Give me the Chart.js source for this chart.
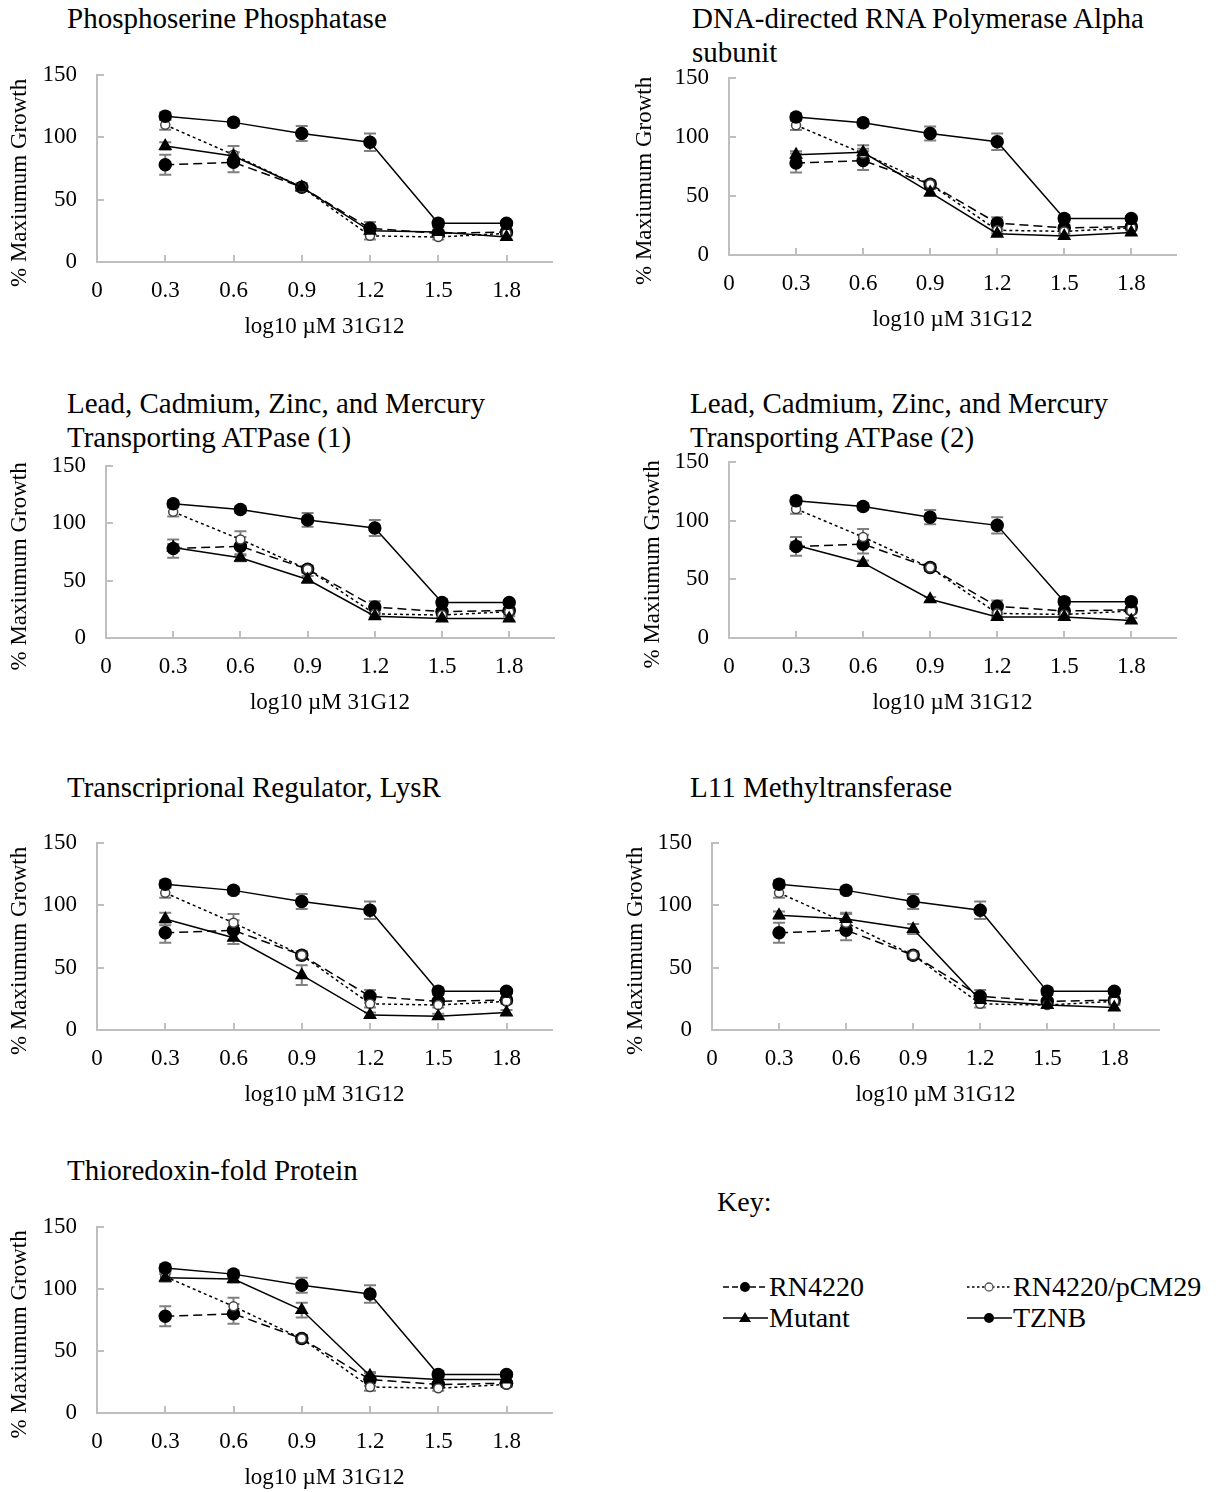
<!DOCTYPE html>
<html lang="en">
<head>
<meta charset="UTF-8">
<title>% Maximum Growth vs log10 µM 31G12</title>
<script src="https://cdn.jsdelivr.net/npm/chart.js@4.4.1/dist/chart.umd.min.js"></script>
<style>
  body { margin: 0; width: 1218px; height: 1492px; position: relative; background: #fff;
         font-family: 'Liberation Serif', 'Times New Roman', serif; color: #000; }
  canvas { position: absolute; }
  .ptitle { position: absolute; font-size: 29px; line-height: 34px; white-space: nowrap; }
  .key { position: absolute; left: 717px; top: 1186px; font-size: 28px; }
  .item { position: absolute; font-size: 28px; line-height: 30px; white-space: nowrap; display: flex; align-items: center; }
  .item svg { margin-right: 1px; }
</style>
</head>
<body>
<div id="page"></div>
<script>
// x values (log10 uM 31G12) and tick labels
const doses = [0.3, 0.6, 0.9, 1.2, 1.5, 1.8];
const xTicks = [0, 0.3, 0.6, 0.9, 1.2, 1.5, 1.8];
const yTicks = [0, 50, 100, 150];
const seriesNames = ['RN4220', 'RN4220/pCM29', 'Mutant', 'TZNB'];

// control strains, same in every panel
const rn4220    = [78, 80, 60, 27, 23, 24];
const rn4220Err = [8, 8, 3, 5, 2, 2];
const pcm29     = [110, 86, 60, 21, 20, 23];
const pcm29Err  = [4, 7, 3, 3, 2, 2];
const tznb      = [117, 112, 103, 96, 31, 31];
const tznbErr   = [3, 3, 6, 7, 3, 2];

// mutant per panel
const mutant1 = [93, 85, 60, 25, 24, 20];
const mutant2 = [85, 87, 53, 18, 16, 19];
const mutant3 = [79, 70, 51, 19, 17, 17];
const mutant4 = [79, 64, 33, 18, 18, 15];
const mutant5 = [89, 74, 44, 12, 11, 14];
const mutant6 = [92, 89, 81, 24, 20, 18];
const mutant7 = [109, 108, 83, 30, 27, 27];
const mutantErr1 = [3, 3, 3, 2, 2, 2];
const mutantErr2 = [3, 3, 3, 2, 2, 2];
const mutantErr3 = [3, 3, 3, 2, 2, 2];
const mutantErr4 = [3, 2, 2, 2, 2, 2];
const mutantErr5 = [5, 5, 8, 2, 2, 2];
const mutantErr6 = [3, 5, 4, 2, 2, 2];
const mutantErr7 = [3, 3, 6, 3, 2, 2];

const panelTitles = [
  ['Phosphoserine Phosphatase'],
  ['DNA-directed RNA Polymerase Alpha', 'subunit'],
  ['Lead, Cadmium, Zinc, and Mercury', 'Transporting ATPase (1)'],
  ['Lead, Cadmium, Zinc, and Mercury', 'Transporting ATPase (2)'],
  ['Transcriprional Regulator, LysR'],
  ['L11 Methyltransferase'],
  ['Thioredoxin-fold Protein']
];
const mutants = [mutant1, mutant2, mutant3, mutant4, mutant5, mutant6, mutant7];
const mutantErrs = [mutantErr1, mutantErr2, mutantErr3, mutantErr4, mutantErr5, mutantErr6, mutantErr7];

// where each plot area sits on the page (L/R = x 0 and 2, T/B = y 150 and 0)
const boxes = [
  { L: 97,  R: 552,  T: 75,  B: 262,  yt: 20,  tx: 67,  ty: 18 },
  { L: 729, R: 1176, T: 78,  B: 255,  yt: 645, tx: 692, ty: 18 },
  { L: 106, R: 554,  T: 466, B: 638,  yt: 20,  tx: 67,  ty: 403 },
  { L: 729, R: 1176, T: 462, B: 638,  yt: 653, tx: 690, ty: 403 },
  { L: 97,  R: 552,  T: 843, B: 1030, yt: 20,  tx: 67,  ty: 787 },
  { L: 712, R: 1159, T: 843, B: 1030, yt: 636, tx: 690, ty: 787 },
  { L: 97,  R: 552,  T: 1227, B: 1413, yt: 20, tx: 67,  ty: 1170 }
];

Chart.defaults.font.family = "'Liberation Serif', 'Times New Roman', serif";
Chart.defaults.font.size = 23;
Chart.defaults.color = '#000';

const errorBars = {
  id: 'errorBars',
  beforeDatasetsDraw(chart) {
    const { ctx, scales: { x, y } } = chart;
    ctx.save();
    ctx.strokeStyle = '#808080';
    ctx.lineWidth = 2;
    chart.data.datasets.forEach(ds => {
      ds.data.forEach((p, i) => {
        const e = ds.errors[i];
        const px = x.getPixelForValue(p.x);
        const y1 = y.getPixelForValue(p.y + e);
        const y2 = y.getPixelForValue(p.y - e);
        ctx.beginPath();
        ctx.moveTo(px, y1); ctx.lineTo(px, y2);
        ctx.moveTo(px - 6, y1); ctx.lineTo(px + 6, y1);
        ctx.moveTo(px - 6, y2); ctx.lineTo(px + 6, y2);
        ctx.stroke();
      });
    });
    ctx.restore();
  }
};

function pts(vals) {
  return doses.map((d, i) => ({ x: d, y: vals[i] }));
}

const page = document.getElementById('page');
const padTop = 20, padRight = 20, xh = 80;

boxes.forEach((b, i) => {
  const t = document.createElement('div');
  t.className = 'ptitle';
  t.style.left = b.tx + 'px';
  t.style.top = (b.ty - 17) + 'px';
  t.innerHTML = panelTitles[i].join('<br>');
  page.appendChild(t);

  const cl = Math.round(b.yt - 14);
  const yw = b.L - cl;
  const cv = document.createElement('canvas');
  cv.width = yw + (b.R - b.L) + padRight;
  cv.height = padTop + (b.B - b.T) + xh;
  cv.style.left = cl + 'px';
  cv.style.top = (b.T - padTop) + 'px';
  page.appendChild(cv);

  const axisGrey = '#bfbfbf';
  new Chart(cv, {
    type: 'line',
    data: {
      datasets: [
        { label: seriesNames[0], data: pts(rn4220), errors: rn4220Err, order: 3,
          borderColor: '#000', borderWidth: 1.5, borderDash: [9, 5],
          pointStyle: 'circle', pointRadius: 6, pointBackgroundColor: '#000', pointBorderColor: '#000' },
        { label: seriesNames[1], data: pts(pcm29), errors: pcm29Err, order: 2,
          borderColor: '#000', borderWidth: 1.5, borderDash: [3, 3],
          pointStyle: 'circle', pointRadius: 4.5, pointBackgroundColor: '#fff', pointBorderColor: '#444', pointBorderWidth: 1.5 },
        { label: seriesNames[2], data: pts(mutants[i]), errors: mutantErrs[i], order: 1,
          borderColor: '#000', borderWidth: 1.5,
          pointStyle: 'triangle', pointRadius: 6.5, pointBackgroundColor: '#000', pointBorderColor: '#000' },
        { label: seriesNames[3], data: pts(tznb), errors: tznbErr, order: 0,
          borderColor: '#000', borderWidth: 1.5,
          pointStyle: 'circle', pointRadius: 6, pointBackgroundColor: '#000', pointBorderColor: '#000' }
      ]
    },
    options: {
      responsive: false,
      animation: false,
      layout: { padding: { top: padTop, right: padRight, left: 0, bottom: 0 } },
      plugins: { legend: { display: false }, tooltip: { enabled: false } },
      scales: {
        x: {
          type: 'linear', min: 0, max: 2,
          afterBuildTicks: s => { s.ticks = xTicks.map(v => ({ value: v })); },
          afterFit: s => { s.height = xh; s.paddingLeft = 0; s.paddingRight = 0; },
          ticks: { padding: 22, callback: v => String(v) },
          grid: { drawOnChartArea: false, drawTicks: true, tickLength: -7, color: axisGrey, lineWidth: 2 },
          border: { display: true, color: axisGrey, width: 2 },
          title: { display: true, text: 'log10 µM 31G12', padding: { top: 0, bottom: 1 } }
        },
        y: {
          min: 0, max: 150,
          afterBuildTicks: s => { s.ticks = yTicks.map(v => ({ value: v })); },
          afterFit: s => { s.width = yw; s.paddingTop = 0; s.paddingBottom = 0; },
          ticks: { padding: 27 },
          grid: { drawOnChartArea: false, drawTicks: true, tickLength: -7, color: axisGrey, lineWidth: 2 },
          border: { display: true, color: axisGrey, width: 2 },
          title: { display: true, text: '% Maxiumum Growth     ', padding: 0 }
        }
      }
    },
    plugins: [errorBars]
  });
});

// key
const key = document.createElement('div');
key.className = 'key';
key.textContent = 'Key:';
page.appendChild(key);

function icon(n) {
  const dash = n === 0 ? 'stroke-dasharray="6 3"' : n === 1 ? 'stroke-dasharray="2.5 2.5"' : '';
  let mark;
  if (n === 1) mark = '<circle cx="22" cy="10" r="4" fill="#fff" stroke="#555" stroke-width="1.3"/>';
  else if (n === 2) mark = '<polygon points="22,4 28,14 16,14" fill="#000"/>';
  else mark = '<circle cx="22" cy="10" r="5" fill="#000"/>';
  return '<svg width="45" height="20"><line x1="0" y1="10" x2="45" y2="10" stroke="#000" stroke-width="1.3" ' +
    dash + '/>' + mark + '</svg>';
}
const keyPos = [[723, 1287], [967, 1287], [723, 1318], [967, 1318]];
seriesNames.forEach((name, n) => {
  const it = document.createElement('div');
  it.className = 'item';
  it.style.left = keyPos[n][0] + 'px';
  it.style.top = (keyPos[n][1] - 15) + 'px';
  it.innerHTML = icon(n) + '<span>' + name + '</span>';
  page.appendChild(it);
});
</script>
</body>
</html>
